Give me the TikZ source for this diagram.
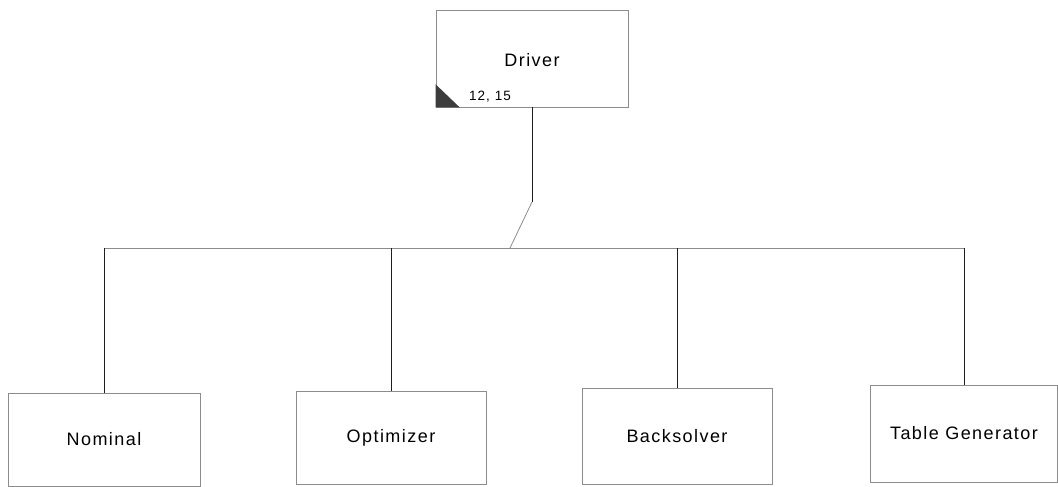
\documentclass[tikz,border=0pt]{standalone}
\usepackage{fontspec}
\setmainfont{Liberation Sans}
\usepackage{tikz}
\usetikzlibrary{calc}
\definecolor{mydark}{RGB}{30,30,30}
\definecolor{myline}{RGB}{140,140,140}
\definecolor{myshade}{RGB}{60,60,60}
\tikzset{
  block/.style={rectangle, draw=myline, fill=white, line width=0.7pt,
    font=\fontsize{18}{20}\selectfont\addfontfeatures{LetterSpace=8}, text=black, inner sep=0pt},
  line/.style={line width=0.8pt, color=mydark},
  busline/.style={line width=0.8pt, color=myline},
  tag/.style={font=\fontsize{13.5}{15}\selectfont\addfontfeatures{LetterSpace=8}, text=black, inner sep=0pt}
}
\begin{document}
\begin{tikzpicture}[x=1pt, y=-1pt]
  \useasboundingbox (0,0) rectangle (1058,487);

  % top block
  \node[block, minimum width=192pt, minimum height=97pt] (driver) at (532,58.5) {};
  \node[block, draw=none, fill=none] (drivertxt) at (532,60) {Driver};
  \fill[myshade] (driver.south west) -- ++(0,-23) -- ++(24,23) -- cycle;
  \node[tag] (drivertag) at (490,97) {12, 15};

  % lower blocks
  \node[block, minimum width=192pt, minimum height=93pt] (nominal) at (104,439.5) {Nominal};
  \node[block, minimum width=190pt, minimum height=93pt] (optimizer) at (391,437.5) {Optimizer};
  \node[block, minimum width=190pt, minimum height=96pt] (backsolver) at (677,436) {Backsolver};
  \node[block, minimum width=187pt, minimum height=97pt] (tablegen) at (964,433.5) {Table Generator};

  % connectors
  \coordinate (bend) at (532,202);
  \coordinate (tap) at (510,248);
  \draw[line] (driver.south) -- (bend);
  \draw[busline] (bend) -- (tap);
  \draw[busline] (nominal.north |- tap) -- (tablegen.north |- tap);
  \foreach \b in {nominal, optimizer, backsolver, tablegen}
    \draw[line] (\b.north |- tap) -- (\b.north);
\end{tikzpicture}
\end{document}
